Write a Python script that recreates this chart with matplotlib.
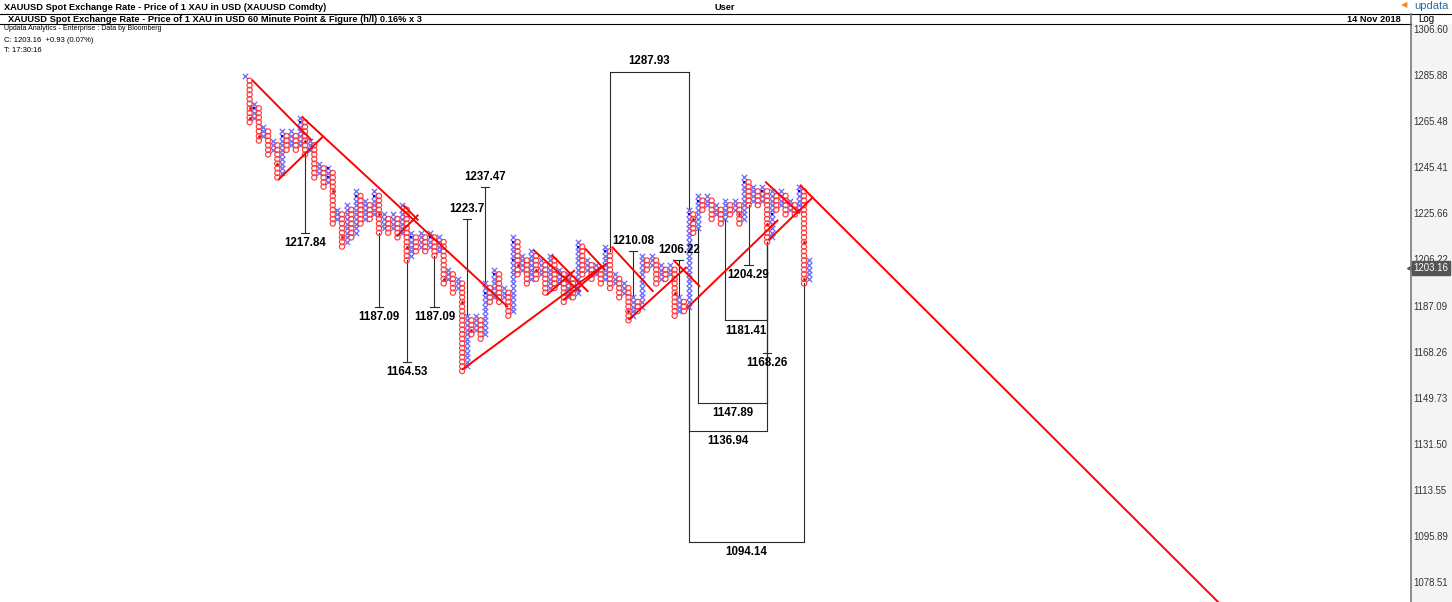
import numpy as np
import matplotlib
matplotlib.use("Agg")
import matplotlib.pyplot as plt
from matplotlib.transforms import blended_transform_factory

# ---------------- data ----------------
BASE_PRICE = 1078.51          # price of box level 0
BOX_PCT = 0.16                # box size (%)
FIRST_COL_LOW = 110           # lowest box of the first X column
# extreme box of each column: X columns (even) -> top box, O columns (odd) -> bottom box
col_extremes = [
    110, 100, 104, 96, 99, 93, 96, 88, 98, 94,
    98, 94, 101, 93, 96, 88, 91, 86, 90, 78,
    81, 73, 82, 75, 85, 78, 83, 79, 85, 76,
    80, 76, 80, 75, 82, 70, 76, 72, 76, 72,
    76, 71, 75, 65, 68, 63, 66, 46, 58, 54,
    58, 53, 65, 61, 68, 61, 64, 58, 75, 67,
    71, 65, 72, 66, 70, 63, 71, 64, 68, 61,
    67, 62, 74, 67, 70, 66, 69, 65, 73, 64,
    67, 62, 65, 57, 62, 59, 71, 68, 71, 65,
    69, 66, 69, 58, 62, 59, 81, 76, 84, 81,
    84, 79, 82, 78, 83, 80, 83, 78, 88, 82,
    86, 82, 86, 74, 85, 81, 85, 80, 83, 80,
    86, 65, 70,
]
# small time markers inside boxes (column, box)
x_marks = [(2, 103), (8, 97), (12, 100), (18, 90), (18, 88), (24, 84), (28, 84),
           (36, 75), (40, 75), (52, 63), (54, 67), (58, 74), (58, 70), (72, 73),
           (78, 72), (96, 80), (98, 83), (108, 87), (112, 85), (114, 80), (120, 85)]
o_marks = [(1, 103), (1, 101), (3, 97), (7, 91), (13, 96), (19, 85), (21, 75),
           (29, 80), (35, 73), (43, 66), (47, 61), (49, 55), (59, 69), (63, 68),
           (83, 59), (93, 63), (97, 79), (107, 80), (113, 78), (121, 74), (121, 66)]

# trend lines: (col0, box0, col1, box1)
trend_lines = [
    (1.5, 109.2, 14.4, 96.1),
    (12.3, 101.2, 56.9, 59.9),
    (7.2, 87.5, 16.9, 96.9),
    (34.3, 82.0, 37.5, 78.7),
    (32.8, 75.2, 37.5, 79.9),
    (47.0, 46.3, 77.2, 68.7),
    (62.4, 72.3, 72.5, 63.2),
    (66.4, 71.2, 74.3, 63.2),
    (65.3, 62.5, 71.4, 67.9),
    (68.9, 61.4, 78.3, 69.4),
    (73.6, 72.6, 77.9, 68.0),
    (79.4, 73.0, 88.4, 63.2),
    (83.0, 57.1, 95.6, 68.6),
    (92.7, 70.1, 98.5, 64.3),
    (95.6, 59.6, 115.4, 78.8),
    (112.6, 87.1, 120.1, 80.2),
    (113.3, 74.4, 123.0, 83.8),
    (120.1, 86.4, 214.0, -7.5),
]

# price-objective counts
target_labels = ["1217.84", "1187.09", "1164.53", "1187.09", "1223.7", "1237.47",
                 "1287.93", "1210.08", "1206.22", "1204.29", "1181.41", "1168.26",
                 "1147.89", "1136.94", "1094.14"]
target_boxes = [76, 60, 48, 60, 79, 86, 111, 72, 70, 69, 57, 50, 39, 33, 9]
target_cols = [(13,), (29,), (35,), (41,), (48,), (52,), (79, 96), (84,), (94,),
               (109,), (104, 113), (113,), (98, 113), (96, 113), (96, 121)]
target_up = [False, False, False, False, True, True, True, True, True,
             False, False, False, False, False, False]

axis_ticks = [1306.60, 1285.88, 1265.48, 1245.41, 1225.66, 1206.22, 1187.09,
              1168.26, 1149.73, 1131.50, 1113.55, 1095.89, 1078.51]
last_price = 1203.16

# ---------------- helpers ----------------
def price(k):
    return BASE_PRICE * (1 + BOX_PCT / 100.0) ** np.asarray(k, dtype=float)

W, H = 1452, 602
BOX_PX = 4.608
COL_PX = 4.62
X0_PX = 245.0
Y0_PX = 583.0   # pixel row of box 0

plt.rcParams["font.family"] = ["Liberation Sans", "DejaVu Sans"]
fig = plt.figure(figsize=(W / 100, H / 100), dpi=100)
fig.patch.set_facecolor("white")

top_px = 24
ax = fig.add_axes([0, 0, 1411 / W, (H - top_px) / H])
ax.set_yscale("log")
ax.set_ylim(price(-(H - Y0_PX) / BOX_PX), price((Y0_PX - top_px) / BOX_PX))
ax.set_xlim(-X0_PX / COL_PX, (1411 - X0_PX) / COL_PX)
ax.set_xticks([])
ax.set_yticks([])
ax.minorticks_off()
for s in ax.spines.values():
    s.set_visible(False)

# ---------------- columns ----------------
xc, xk, oc, ok = [], [], [], []
for i, e in enumerate(col_extremes):
    if i % 2 == 0:
        lo = FIRST_COL_LOW if i == 0 else col_extremes[i - 1] + 1
        for k in range(lo, e + 1):
            xc.append(i); xk.append(k)
    else:
        hi = col_extremes[i - 1] - 1
        for k in range(e, hi + 1):
            oc.append(i); ok.append(k)

X_COLOR = "#6a6af8"
O_COLOR = "#ff3a3a"
ax.scatter(xc, price(xk), marker="x", s=15, c=X_COLOR, linewidths=0.9, zorder=3)
ax.scatter(oc, price(ok), marker="o", s=14, facecolors="none", edgecolors=O_COLOR,
           linewidths=0.85, zorder=3)
ax.scatter([m[0] for m in x_marks], price([m[1] for m in x_marks]), marker="s", s=4,
           c="#0000ff", linewidths=0, zorder=4)
ax.scatter([m[0] for m in o_marks], price([m[1] for m in o_marks]), marker="o", s=4,
           c="#e00000", linewidths=0, zorder=4)

# ---------------- trend lines ----------------
for c0, k0, c1, k1 in trend_lines:
    ax.plot([c0, c1], price([k0, k1]), color="#ff0000", lw=1.4, zorder=5,
            solid_capstyle="butt")

# ---------------- targets ----------------
def col_low(i):
    if i % 2 == 1:
        return col_extremes[i]
    return FIRST_COL_LOW if i == 0 else col_extremes[i - 1] + 1

def col_high(i):
    if i % 2 == 0:
        return col_extremes[i]
    return col_extremes[i - 1] - 1

LINE_COLOR = "#2a2a2a"
for lab, tb, cols, up in zip(target_labels, target_boxes, target_cols, target_up):
    for c in cols:
        start = col_high(c) if up else col_low(c)
        ax.plot([c, c], price([start, tb]), color=LINE_COLOR, lw=0.8, zorder=2)
    if len(cols) == 1:
        c = cols[0]
        ax.plot([c - 0.9, c + 0.9], price([tb, tb]), color=LINE_COLOR, lw=0.8, zorder=2)
        cx = c
    else:
        ax.plot([cols[0], cols[1]], price([tb, tb]), color=LINE_COLOR, lw=0.8, zorder=2)
        cx = (cols[0] + cols[1]) / 2
    ax.annotate(lab, xy=(cx, price(tb)), xytext=(0, 3 if up else -3),
                textcoords="offset points", ha="center",
                va="bottom" if up else "top", fontsize=8.3, fontweight="bold",
                color="black", zorder=6)

# ---------------- right price axis ----------------
ax2 = fig.add_axes([1411 / W, 0, (W - 1411) / W, (H - top_px) / H])
ax2.set_yscale("log")
ax2.set_ylim(ax.get_ylim())
ax2.set_xlim(0, 1)
ax2.set_facecolor("#f4f4f4")
ax2.set_xticks([]); ax2.set_yticks([]); ax2.minorticks_off()
for n, s in ax2.spines.items():
    s.set_visible(n == "left")
ax2.spines["left"].set_color("#7a7a7a")
ax2.spines["left"].set_linewidth(1.2)
tr = blended_transform_factory(ax2.transAxes, ax2.transData)
for t in axis_ticks:
    ax2.text(0.06, t, f"{t:.2f}", transform=tr, ha="left", va="center",
             fontsize=6.9, color="#333333")
ax2.text(0.06, last_price, f"{last_price:.2f}", transform=tr, ha="left", va="center",
         fontsize=6.9, color="white", zorder=5,
         bbox=dict(boxstyle="square,pad=0.2", fc="#555555", ec="#555555"))
ax2.plot([-0.02], [last_price], marker="<", ms=5, color="#555555", transform=tr,
         clip_on=False)

# ---------------- header ----------------
def fy(py):
    return 1 - py / H

fig.add_artist(plt.Line2D([0, 1], [fy(14), fy(14)], color="black", lw=0.8))
fig.add_artist(plt.Line2D([0, 1411 / W], [fy(24), fy(24)], color="black", lw=0.8))
fig.add_artist(plt.Line2D([1411 / W, 1411 / W], [fy(14), fy(24)], color="#7a7a7a", lw=1.2))
fig.text(4 / W, fy(7), "XAUUSD Spot Exchange Rate - Price of 1 XAU in USD (XAUUSD Comdty)",
         fontsize=6.7, fontweight="bold", va="center", ha="left")
fig.text(725 / W, fy(7), "User", fontsize=6.7, fontweight="bold", va="center", ha="center")
fig.text(1449 / W, fy(6), "updata", fontsize=8, color="#2a6bb5", va="center", ha="right")
fig.text(1407 / W, fy(6), "\u25c0", fontsize=6, color="#f08a1c", va="center", ha="right")
fig.text(8 / W, fy(19), "XAUUSD Spot Exchange Rate - Price of 1 XAU in USD 60 Minute Point & Figure (h/l) 0.16% x 3",
         fontsize=6.7, fontweight="bold", va="center", ha="left")
fig.text(1401 / W, fy(19), "14 Nov 2018", fontsize=6.7, fontweight="bold", va="center", ha="right")
fig.text(1418 / W, fy(19), "Log", fontsize=7, va="center", ha="left")
fig.text(4 / W, fy(29), "Updata Analytics - Enterprise : Data by Bloomberg", fontsize=5,
         va="center", ha="left")
fig.text(4 / W, fy(40), "C: 1203.16  +0.93 (0.07%)", fontsize=5.5, va="center", ha="left")
fig.text(4 / W, fy(50), "T: 17:30:16", fontsize=5.5, va="center", ha="left")

fig.savefig("out.png", dpi=100, facecolor="white")
